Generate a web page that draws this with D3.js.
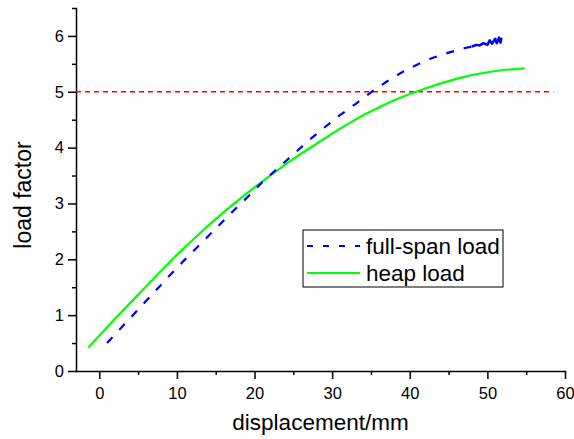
<!DOCTYPE html>
<html>
<head>
<meta charset="utf-8">
<script src="https://cdn.jsdelivr.net/npm/d3@7"></script>
<style>
    body { margin: 0; background: #fff; }
    svg text { font-family: "Liberation Sans", Arial, sans-serif; fill: #000; }
    .axis path, .axis line { stroke: #000; stroke-width: 1.5; }
</style>
</head>
<body>
<svg id="chart" width="574" height="439"></svg>
<script>

// heap load (green, solid)
var heapX = [-1.4, 0, 2, 4, 6, 8, 10, 12, 14, 16, 18, 20, 22, 24, 26, 28, 30, 32, 34, 36, 38, 40, 42, 44, 46, 48, 50, 52, 54, 54.8];
var heapY = [0.42, 0.63, 0.93, 1.22, 1.51, 1.80, 2.08, 2.34, 2.60, 2.84, 3.07, 3.29, 3.50, 3.70, 3.89, 4.07, 4.25, 4.42, 4.58, 4.72, 4.85, 4.96, 5.06, 5.15, 5.23, 5.30, 5.35, 5.39, 5.41, 5.42];

// full-span load (blue, dashed)
var fullX = [1.0, 3, 5, 7, 9, 11, 13, 15, 17, 19, 21, 23, 25, 27, 29, 31, 33, 35, 37, 39, 41, 43, 45, 47, 48];
var fullY = [0.50, 0.80, 1.10, 1.40, 1.70, 1.99, 2.27, 2.55, 2.83, 3.10, 3.38, 3.63, 3.88, 4.13, 4.36, 4.58, 4.78, 4.99, 5.18, 5.35, 5.49, 5.61, 5.70, 5.78, 5.81];
// noisy tail of the same series, drawn solid because the points are so dense
var tailX = [48, 48.6, 49, 49.5, 50, 50.3, 50.6, 51, 51.2, 51.5, 51.7, 51.8, 51.6, 51.8];
var tailY = [5.81, 5.84, 5.83, 5.87, 5.84, 5.92, 5.86, 5.95, 5.87, 5.97, 5.88, 5.95, 5.90, 5.93];

// reference line at load factor 5
var refX = [-3, 58.5];
var refY = [5, 5];

var xTicks = [0, 10, 20, 30, 40, 50, 60];
var yTicks = [0, 1, 2, 3, 4, 5, 6];
var xMinor = [5, 15, 25, 35, 45, 55];
var yMinor = [0.5, 1.5, 2.5, 3.5, 4.5, 5.5, 6.5];

var seriesNames = ["full-span load", "heap load"];

var svg = d3.select("#chart");

var x = d3.scaleLinear().domain([-3, 60]).range([76, 565]);
var y = d3.scaleLinear().domain([0, 6.5]).range([371, 8]);

function zip(xs, ys){
    return xs.map(function(v, i){ return [v, ys[i]]; });
}

var line = d3.line()
    .x(function(d){ return x(d[0]); })
    .y(function(d){ return y(d[1]); });

// axes: major ticks with labels, minor ticks without
var gx = svg.append("g").attr("class", "axis")
    .attr("transform", "translate(0," + y(0) + ")");
gx.call(d3.axisBottom(x).tickValues(xTicks).tickFormat(d3.format("d"))
    .tickSize(8).tickPadding(8).tickSizeOuter(0));
gx.append("g").call(d3.axisBottom(x).tickValues(xMinor).tickSize(4).tickFormat(""))
    .select(".domain").remove();

var gy = svg.append("g").attr("class", "axis")
    .attr("transform", "translate(" + x(-3) + ",0)");
gy.call(d3.axisLeft(y).tickValues(yTicks).tickFormat(d3.format("d"))
    .tickSize(8).tickPadding(4).tickSizeOuter(0));
gy.append("g").call(d3.axisLeft(y).tickValues(yMinor).tickSize(4).tickFormat(""))
    .select(".domain").remove();

svg.selectAll(".axis text").attr("font-size", 16.5);
svg.selectAll(".axis .domain").attr("stroke-linecap", "square");

// axis titles
svg.append("text")
    .attr("x", (x(-3) + x(60)) / 2)
    .attr("y", 430)
    .attr("text-anchor", "middle")
    .attr("font-size", 22.5)
    .text("displacement/mm");

svg.append("text")
    .attr("transform", "translate(31,195) rotate(-90)")
    .attr("text-anchor", "middle")
    .attr("font-size", 23)
    .text("load factor");

// data
svg.append("path")
    .datum(zip(refX, refY))
    .attr("d", line)
    .attr("fill", "none")
    .attr("stroke", "#ff0000")
    .attr("stroke-width", 1.6)
    .attr("stroke-dasharray", "5,4");

svg.append("path")
    .datum(zip(heapX, heapY))
    .attr("d", line)
    .attr("fill", "none")
    .attr("stroke", "#00ff00")
    .attr("stroke-width", 2.2);

svg.append("path")
    .datum(zip(fullX, fullY))
    .attr("d", line)
    .attr("fill", "none")
    .attr("stroke", "#0000ff")
    .attr("stroke-width", 2.2)
    .attr("stroke-dasharray", "8,10");

svg.append("path")
    .datum(zip(tailX, tailY))
    .attr("d", line)
    .attr("fill", "none")
    .attr("stroke", "#0000ff")
    .attr("stroke-width", 2.5)
    .attr("stroke-linejoin", "round");

// legend
var legend = svg.append("g").attr("transform", "translate(303,230)");
legend.append("rect")
    .attr("width", 200)
    .attr("height", 57)
    .attr("fill", "#fff")
    .attr("stroke", "#000")
    .attr("stroke-width", 1);

var legendStyle = [
    {color: "#0000ff", dash: "6,10"},
    {color: "#00ff00", dash: null}
];
seriesNames.forEach(function(name, i){
    var ly = 16 + i * 27;
    legend.append("line")
        .attr("x1", 4).attr("x2", 57)
        .attr("y1", ly).attr("y2", ly)
        .attr("stroke", legendStyle[i].color)
        .attr("stroke-width", 2)
        .attr("stroke-dasharray", legendStyle[i].dash);
    legend.append("text")
        .attr("x", 63)
        .attr("y", ly)
        .attr("dy", "0.35em")
        .attr("font-size", 22.5)
        .text(name);
});

</script>
</body>
</html>
